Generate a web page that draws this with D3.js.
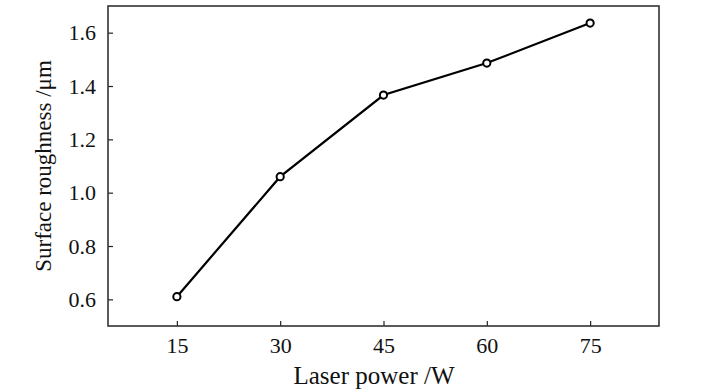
<!DOCTYPE html>
<html><head><meta charset="utf-8">
<script src="https://cdn.jsdelivr.net/npm/d3@7"></script>
<style>body{margin:0;background:#fff}svg{display:block}text{font-family:"Liberation Serif","DejaVu Serif",serif;fill:#111}</style>
</head><body><svg id="c" width="701" height="390"></svg>
<script>
const power = [15, 30, 45, 60, 75];
const roughness = [0.61, 1.06, 1.366, 1.486, 1.636];
const xTicks = [15, 30, 45, 60, 75];
const yTicks = [0.6, 0.8, 1.0, 1.2, 1.4, 1.6];
const xLabel = "Laser power /W";
const yLabel = "Surface roughness /μm";

const svg = d3.select("#c");
const L = 108, R = 659, T = 6, B = 326;
const x = d3.scaleLinear().domain([5, 85]).range([L, R]);
const y = d3.scaleLinear().domain([0.5, 1.7]).range([B, T]);
const serif = "'Liberation Serif', 'DejaVu Serif', serif";

svg.append("g").attr("transform", `translate(0,${B})`)
  .call(d3.axisBottom(x).tickValues(xTicks).tickSize(-5).tickPadding(11).tickFormat(d3.format("d")))
  .call(g => { g.attr("font-family", serif).attr("font-size", 22); g.select(".domain").remove();
    g.selectAll("line").attr("stroke","#222").attr("stroke-width",1.2);
    g.selectAll("text").attr("fill", "#111"); });
svg.append("g").attr("transform", `translate(${L},0)`)
  .call(d3.axisLeft(y).tickValues(yTicks).tickSize(-5).tickPadding(12).tickFormat(d3.format(".1f")))
  .call(g => { g.attr("font-family", serif).attr("font-size", 22); g.select(".domain").remove();
    g.selectAll("line").attr("stroke","#222").attr("stroke-width",1.2);
    g.selectAll("text").attr("fill", "#111"); });

svg.append("rect").attr("x", L).attr("y", T).attr("width", R - L).attr("height", B - T)
  .attr("fill", "none").attr("stroke", "#333").attr("stroke-width", 1.6);

const pts = power.map((p, i) => [p, roughness[i]]);
svg.append("path").datum(pts)
  .attr("d", d3.line().x(d => x(d[0])).y(d => y(d[1])))
  .attr("fill", "none").attr("stroke", "#000").attr("stroke-width", 2.2);
svg.selectAll("circle.pt").data(pts).join("circle").attr("class","pt")
  .attr("cx", d => x(d[0])).attr("cy", d => y(d[1])).attr("r", 3.6)
  .attr("fill", "#fff").attr("stroke", "#000").attr("stroke-width", 2);

svg.append("text").attr("x", 374).attr("y", 384).attr("text-anchor", "middle")
  .attr("font-family", serif).attr("font-size", 25).text(xLabel);
svg.append("text").attr("transform", `translate(51,166) rotate(-90)`)
  .attr("text-anchor", "middle").attr("font-family", serif).attr("font-size", 23).text(yLabel);
</script></body></html>
